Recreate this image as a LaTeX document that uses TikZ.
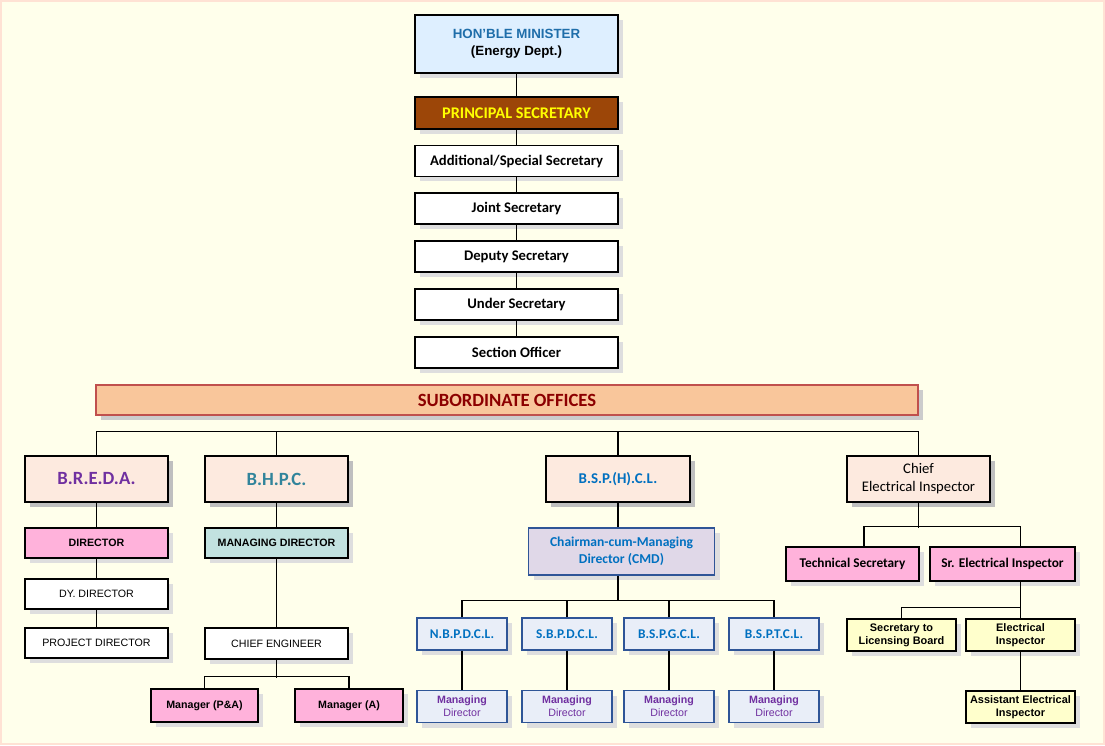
\documentclass[tikz,border=0pt]{standalone}
\usepackage{fontspec}
\setmainfont{Liberation Sans}
\newfontfamily\calib{Carlito}
\usetikzlibrary{shadows}
\definecolor{bgcream}{RGB}{255,255,235}
\definecolor{bgedge}{RGB}{255,226,212}
\definecolor{minfill}{RGB}{222,239,255}
\definecolor{mintext}{RGB}{31,110,170}
\definecolor{psfill}{RGB}{156,70,8}
\definecolor{pstext}{RGB}{255,255,0}
\definecolor{subfill}{RGB}{249,198,155}
\definecolor{subdraw}{RGB}{192,80,77}
\definecolor{subtext}{RGB}{140,0,0}
\definecolor{peach}{RGB}{253,234,223}
\definecolor{pinkfill}{RGB}{255,178,219}
\definecolor{tealfill}{RGB}{194,226,224}
\definecolor{lavfill}{RGB}{224,216,232}
\definecolor{lbfill}{RGB}{233,238,248}
\definecolor{lbdraw}{RGB}{47,85,151}
\definecolor{ylwfill}{RGB}{255,255,204}
\definecolor{purptext}{RGB}{112,48,160}
\definecolor{tealtext}{RGB}{49,132,155}
\definecolor{bluetext}{RGB}{0,112,192}
\tikzset{
  box/.style={
    rectangle, draw, line width=0.9pt, inner sep=0pt, align=center,
    drop shadow={shadow xshift=3.75pt, shadow yshift=-3.75pt,
                 fill=black!13, opacity=1}
  },
  sz/.style 2 args={minimum width=#1*0.75pt, minimum height=#2*0.75pt},
  wbx/.style={box, fill=white},
  minbx/.style={box, fill=minfill, font=\fontsize{10}{12.5}\selectfont\bfseries},
  psbx/.style={box, fill=psfill, text=pstext,
               font=\calib\fontsize{12.2}{14}\selectfont\bfseries},
  secbx/.style={wbx, sz={203}{31}, font=\calib\fontsize{11}{13}\selectfont\bfseries},
  subbx/.style={box, fill=subfill, draw=subdraw, text=subtext,
                drop shadow={shadow xshift=3.75pt, shadow yshift=-3.75pt,
                             fill=black!20, opacity=1},
                font=\calib\fontsize{14}{16}\selectfont\bfseries},
  pch/.style={box, fill=peach, sz={143}{46},
              drop shadow={shadow xshift=3.75pt, shadow yshift=-3.75pt,
                           fill=black!25, opacity=1},
              font=\calib\fontsize{14}{16}\selectfont\bfseries},
  pnk/.style={box, fill=pinkfill},
  tea/.style={box, fill=tealfill},
  lav/.style={box, fill=lavfill, draw=lbdraw, text=bluetext},
  lbx/.style={box, fill=lbfill, draw=lbdraw, sz={90}{32}},
  ylw/.style={box, fill=ylwfill, sz={109}{32},
              font=\fontsize{8.2}{9.6}\selectfont\bfseries},
  arl/.style={font=\fontsize{8}{10}\selectfont},
  arb/.style={font=\fontsize{8}{10}\selectfont\bfseries},
  clb/.style={font=\calib\fontsize{10}{12}\selectfont\bfseries},
  link/.style={line width=0.8pt}
}

\begin{document}
\begin{tikzpicture}[x=0.75pt, y=-0.75pt]

  %% ── background ────────────────────────────────────────────
  \useasboundingbox (0,0) rectangle (1105,745);
  \fill[bgcream, draw=bgedge, line width=1.5pt] (1,1) rectangle (1104,744);

  %% ── secretariat ───────────────────────────────────────────
  \node[minbx, sz={203}{58}] (min) at (516.5,44)
       {\textcolor{mintext}{HON’BLE MINISTER}\\(Energy Dept.)};
  \node[psbx, sz={203}{32}] (ps) at (516.5,113) {PRINCIPAL SECRETARY};
  \node[secbx] (addl) at (516.5,161)   {Additional/Special Secretary};
  \node[secbx] (js)   at (516.5,208.5) {Joint Secretary};
  \node[secbx] (ds)   at (516.5,256.5) {Deputy Secretary};
  \node[secbx] (us)   at (516.5,304.5) {Under Secretary};
  \node[secbx] (so)   at (516.5,352.5) {Section Officer};

  \foreach \a/\b in {min/ps, ps/addl, addl/js, js/ds, ds/us, us/so}
    \draw[link] (\a) -- (\b);

  \node[subbx, sz={822}{30}] (sub) at (507,400) {SUBORDINATE OFFICES};

  %% ── offices ───────────────────────────────────────────────
  \node[pch, text=purptext] (breda) at (96.5,479)  {B.R.E.D.A.};
  \node[pch, text=tealtext] (bhpc)  at (276.5,479) {B.H.P.C.};
  \node[pch, text=bluetext, sz={144}{46},
        font=\calib\fontsize{11.2}{13}\selectfont\bfseries]
        (bsp) at (618,479) {B.S.P.(H).C.L.};
  \node[pch, font=\calib\fontsize{11}{13.5}\selectfont]
        (cei) at (918.5,479) {Chief\\Electrical Inspector};

  \draw[link] (breda.north) -- ++(0,-24) -| (cei.north);
  \draw[link] (bhpc.north) -- ++(0,-24);
  \draw[link] (bsp.north) -- ++(0,-24);

  %% B.R.E.D.A.
  \node[pnk, sz={143}{30}, arb] (dir)  at (96.5,543) {DIRECTOR};
  \node[wbx, sz={143}{30}, arl] (dyd)  at (96.5,594) {DY. DIRECTOR};
  \node[wbx, sz={143}{30}, arl] (prd)  at (96.5,643) {PROJECT DIRECTOR};
  \foreach \a/\b in {breda/dir, dir/dyd, dyd/prd}
    \draw[link] (\a) -- (\b);

  %% B.H.P.C.
  \node[tea, sz={143}{30}, arb] (md) at (276.5,543)   {MANAGING DIRECTOR};
  \node[wbx, sz={143}{31}, arl] (ce) at (276.5,643.5) {CHIEF ENGINEER};
  \node[pnk, sz={107}{33}, arb] (mpa) at (204.5,705.5) {Manager (P\&A)};
  \node[pnk, sz={108}{33}, arb] (ma)  at (349,705.5)   {Manager (A)};
  \draw[link] (bhpc) -- (md);
  \draw[link] (md) -- (ce);
  \draw[link] (ce.south) -- ++(0,18);
  \draw[link] (mpa.north) -- ++(0,-12) -| (ma.north);

  %% B.S.P.(H).C.L.
  \node[lav, sz={186}{47}, font=\calib\fontsize{10.2}{12.5}\selectfont\bfseries]
        (cmd) at (621.5,551.5) {Chairman-cum-Managing\\Director (CMD)};
  \draw[link] (bsp.south) -- (bsp.south |- cmd.north);
  \draw[link] (bsp.south |- cmd.south) -- ++(0,25);

  \node[lbx, text=bluetext, clb] (nb) at (462,634) {N.B.P.D.C.L.};
  \node[lbx, text=bluetext, clb] (sb) at (567,634) {S.B.P.D.C.L.};
  \node[lbx, text=bluetext, clb] (gc) at (669,634) {B.S.P.G.C.L.};
  \node[lbx, text=bluetext, clb] (tc) at (774,634) {B.S.P.T.C.L.};
  \draw[link] (nb.north) -- ++(0,-17) -| (tc.north);
  \draw[link] (sb.north) -- ++(0,-17);
  \draw[link] (gc.north) -- ++(0,-17);

  \foreach \c/\x in {nb/462, sb/567, gc/669, tc/774} {
    \node[lbx, text=purptext, font=\fontsize{8}{9.6}\selectfont]
         (\c md) at (\x,706.5) {\textbf{Managing}\\Director};
    \draw[link] (\c) -- (\c md);
  }

  %% Chief Electrical Inspector
  \node[pnk, sz={133}{34}, clb] (ts)  at (852.5,564)  {Technical Secretary};
  \node[pnk, sz={145}{34}, clb] (sei) at (1002.5,564) {Sr. Electrical Inspector};
  \node[ylw] (slb) at (901.5,635)  {Secretary to\\Licensing Board};
  \node[ylw] (ei)  at (1020.5,635) {Electrical\\Inspector};
  \node[ylw] (aei) at (1020.5,707) {Assistant Electrical\\Inspector};

  \draw[link] (cei.south) -- ++(0,25);
  \draw[link] ([xshift=8.6pt]ts.north) -- ++(0,-20) -| (ei.north |- sei.north);
  \draw[link] (ei.north |- sei.south) -- (ei.north);
  \draw[link] (slb.north) -- ++(0,-11) -| (ei.north);
  \draw[link] (ei) -- (aei);

\end{tikzpicture}
\end{document}
